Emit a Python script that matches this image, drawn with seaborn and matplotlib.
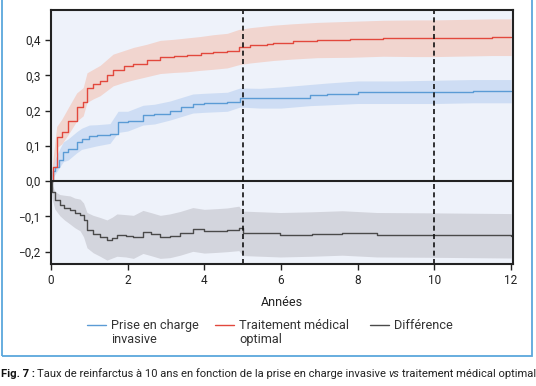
import matplotlib
matplotlib.use("Agg")
import matplotlib.pyplot as plt
import numpy as np
import pandas as pd
import seaborn as sns
from matplotlib.lines import Line2D
from matplotlib.ticker import FuncFormatter

# Prise en charge invasive (step curve, years / cumulative rate / CI half width)
t_inv = [0, 0.05, 0.1, 0.2, 0.32, 0.45, 0.67, 0.8, 1.0, 1.2, 1.54, 1.75, 2.0, 2.4, 2.7, 3.1, 3.4, 3.7, 4.0, 4.6, 4.93, 5.45, 6.0, 6.76, 7.2, 8.0, 9.0, 10.0, 11.0, 12.0]
y_inv = [0.0, 0.03, 0.04, 0.06, 0.083, 0.09, 0.11, 0.12, 0.127, 0.13, 0.135, 0.168, 0.17, 0.187, 0.19, 0.2, 0.21, 0.22, 0.222, 0.225, 0.237, 0.235, 0.237, 0.244, 0.247, 0.252, 0.252, 0.253, 0.255, 0.255]
ci_inv = [0.0, 0.02, 0.022, 0.025, 0.028, 0.03, 0.03, 0.03, 0.032, 0.03, 0.028, 0.03, 0.028, 0.028, 0.028, 0.027, 0.027, 0.027, 0.027, 0.027, 0.027, 0.028, 0.03, 0.03, 0.031, 0.032, 0.032, 0.033, 0.033, 0.033]

# Traitement médical optimal
t_med = [0, 0.05, 0.15, 0.28, 0.45, 0.67, 0.84, 0.94, 1.1, 1.28, 1.45, 1.62, 1.9, 2.15, 2.5, 2.85, 3.2, 3.55, 3.9, 4.23, 4.6, 4.9, 5.2, 5.63, 5.8, 6.3, 6.95, 7.8, 8.67, 9.5, 10.0, 11.5, 12.0]
y_med = [0.0, 0.04, 0.125, 0.14, 0.17, 0.21, 0.225, 0.265, 0.275, 0.285, 0.3, 0.315, 0.325, 0.333, 0.342, 0.352, 0.355, 0.358, 0.362, 0.366, 0.37, 0.38, 0.385, 0.39, 0.392, 0.396, 0.4, 0.402, 0.405, 0.405, 0.405, 0.408, 0.408]
ci_med = [0.0, 0.02, 0.03, 0.035, 0.038, 0.04, 0.04, 0.042, 0.042, 0.043, 0.044, 0.045, 0.045, 0.046, 0.046, 0.047, 0.047, 0.048, 0.048, 0.049, 0.049, 0.05, 0.05, 0.05, 0.05, 0.05, 0.05, 0.051, 0.051, 0.052, 0.052, 0.052, 0.052]

# Différence
t_dif = [0, 0.03, 0.1, 0.23, 0.35, 0.5, 0.62, 0.76, 0.85, 0.94, 1.1, 1.28, 1.46, 1.6, 1.72, 1.95, 2.15, 2.4, 2.6, 2.85, 3.1, 3.37, 3.7, 4.0, 4.33, 4.6, 4.9, 5.0, 5.98, 6.8, 7.6, 8.5, 10.0, 12.0]
y_dif = [0.0, -0.03, -0.054, -0.068, -0.075, -0.082, -0.09, -0.096, -0.11, -0.139, -0.15, -0.158, -0.167, -0.16, -0.153, -0.155, -0.158, -0.144, -0.15, -0.158, -0.155, -0.148, -0.137, -0.142, -0.14, -0.138, -0.134, -0.148, -0.152, -0.15, -0.147, -0.152, -0.153, -0.155]
ci_dif = [0.0, 0.02, 0.025, 0.03, 0.035, 0.04, 0.042, 0.045, 0.048, 0.05, 0.053, 0.055, 0.057, 0.058, 0.06, 0.06, 0.061, 0.061, 0.061, 0.061, 0.062, 0.062, 0.062, 0.062, 0.062, 0.062, 0.063, 0.063, 0.063, 0.063, 0.063, 0.063, 0.063, 0.063]

labels = ["Prise en charge", "Traitement médical", "Différence"]
labels_2nd = ["invasive", "optimal", ""]
line_colors = ["#5b9bd5", "#e2483d", "#4a4a4a"]
band_colors = ["#c9daf3", "#f2d0c8", "#cfd0d8"]
x_ticks = [0, 2, 4, 6, 8, 10, 12]
y_ticks = [-0.2, -0.1, 0.0, 0.1, 0.2, 0.3, 0.4]
vlines = [5, 10]

sns.set_theme(style="white")
plt.rcParams["font.family"] = ["Roboto", "DejaVu Sans"]

fig = plt.figure(figsize=(5.36, 3.86), dpi=100)
ax = fig.add_axes([0.0951, 0.316, 0.862, 0.658])
ax.set_facecolor("#eef2fa")

series = [(t_inv, y_inv, ci_inv), (t_med, y_med, ci_med), (t_dif, y_dif, ci_dif)]
for (t, y, ci), lc, bc in zip(series, line_colors, band_colors):
    df = pd.DataFrame({"t": t, "y": y, "ci": ci})
    ax.fill_between(df["t"], df["y"] - df["ci"], df["y"] + df["ci"],
                    color=bc, lw=0, alpha=0.85)
    sns.lineplot(data=df, x="t", y="y", ax=ax, color=lc, lw=1.0,
                 drawstyle="steps-post", legend=False)

ax.axhline(0, color="#222222", lw=1.5)
for v in vlines:
    ax.axvline(v, color="#111111", lw=1.2, ls=(0, (3, 2)))

ax.set_xlim(0, 12.05)
ax.set_ylim(-0.235, 0.485)
ax.set_xticks(x_ticks)
ax.set_yticks(y_ticks)
ax.xaxis.set_major_formatter(FuncFormatter(lambda v, p: f"{v:g}"))
ax.yaxis.set_major_formatter(FuncFormatter(lambda v, p: f"{v:.1f}".replace(".", ",").replace("-", "\u2212")))
ax.tick_params(axis="both", labelsize=8.5, colors="#222222", length=4, width=1,
               direction="out", bottom=True, left=True)
for s in ax.spines.values():
    s.set_color("#222222")
    s.set_linewidth(1.5)
ax.set_xlabel("Années", fontsize=9, color="#222222", labelpad=6)
ax.set_ylabel("")

handles = [Line2D([0], [0], color=c, lw=1.0) for c in line_colors]
leg_kw = dict(frameon=False, fontsize=9.2, handlelength=1.5, handletextpad=0.4,
              columnspacing=1.25, labelcolor="#333333", borderaxespad=0, borderpad=0.4)
leg = fig.legend(handles[:2], labels[:2], loc="upper left", ncol=2,
                 bbox_to_anchor=(82 / 536, 1 - 314 / 386), **leg_kw)
leg3 = fig.legend(handles[2:], labels[2:], loc="upper left", ncol=1,
                  bbox_to_anchor=(365 / 536, 1 - 314 / 386), **leg_kw)

# blue frame around the figure panel
frame = plt.Rectangle((2 / 536, 1 - 356 / 386), 530 / 536, 356 / 386 + 0.05,
                      transform=fig.transFigure, fill=False, ec="#5aa7dc", lw=1.3,
                      clip_on=False)
fig.add_artist(frame)

fig.canvas.draw()
r = fig.canvas.get_renderer()
W, H = fig.bbox.width, fig.bbox.height

# second lines of the legend labels
for txt, extra in zip(leg.get_texts(), labels_2nd):
    if extra:
        bb = txt.get_window_extent(r)
        fig.text(bb.x0 / W, (bb.y0 - 14) / H, extra, fontsize=9.2, color="#333333",
                 ha="left", va="bottom")

# caption
cap_y = 1 - 374 / 386
cs = 8.1
t1 = fig.text(0.002, cap_y, "Fig. 7 :", fontsize=cs, fontweight="bold", va="center", color="#111111")
x = t1.get_window_extent(r).x1 + 2
t2 = fig.text(x / W, cap_y, "Taux de reinfarctus à 10 ans en fonction de la prise en charge invasive",
              fontsize=cs, va="center", color="#222222")
x = t2.get_window_extent(r).x1 + 2.5
t3 = fig.text(x / W, cap_y, "vs", fontsize=cs, style="italic", va="center", color="#222222")
x = t3.get_window_extent(r).x1 + 2.5
fig.text(x / W, cap_y, "traitement médical optimal", fontsize=cs, va="center", color="#222222")

fig.savefig("out.png", dpi=100, facecolor="white")
